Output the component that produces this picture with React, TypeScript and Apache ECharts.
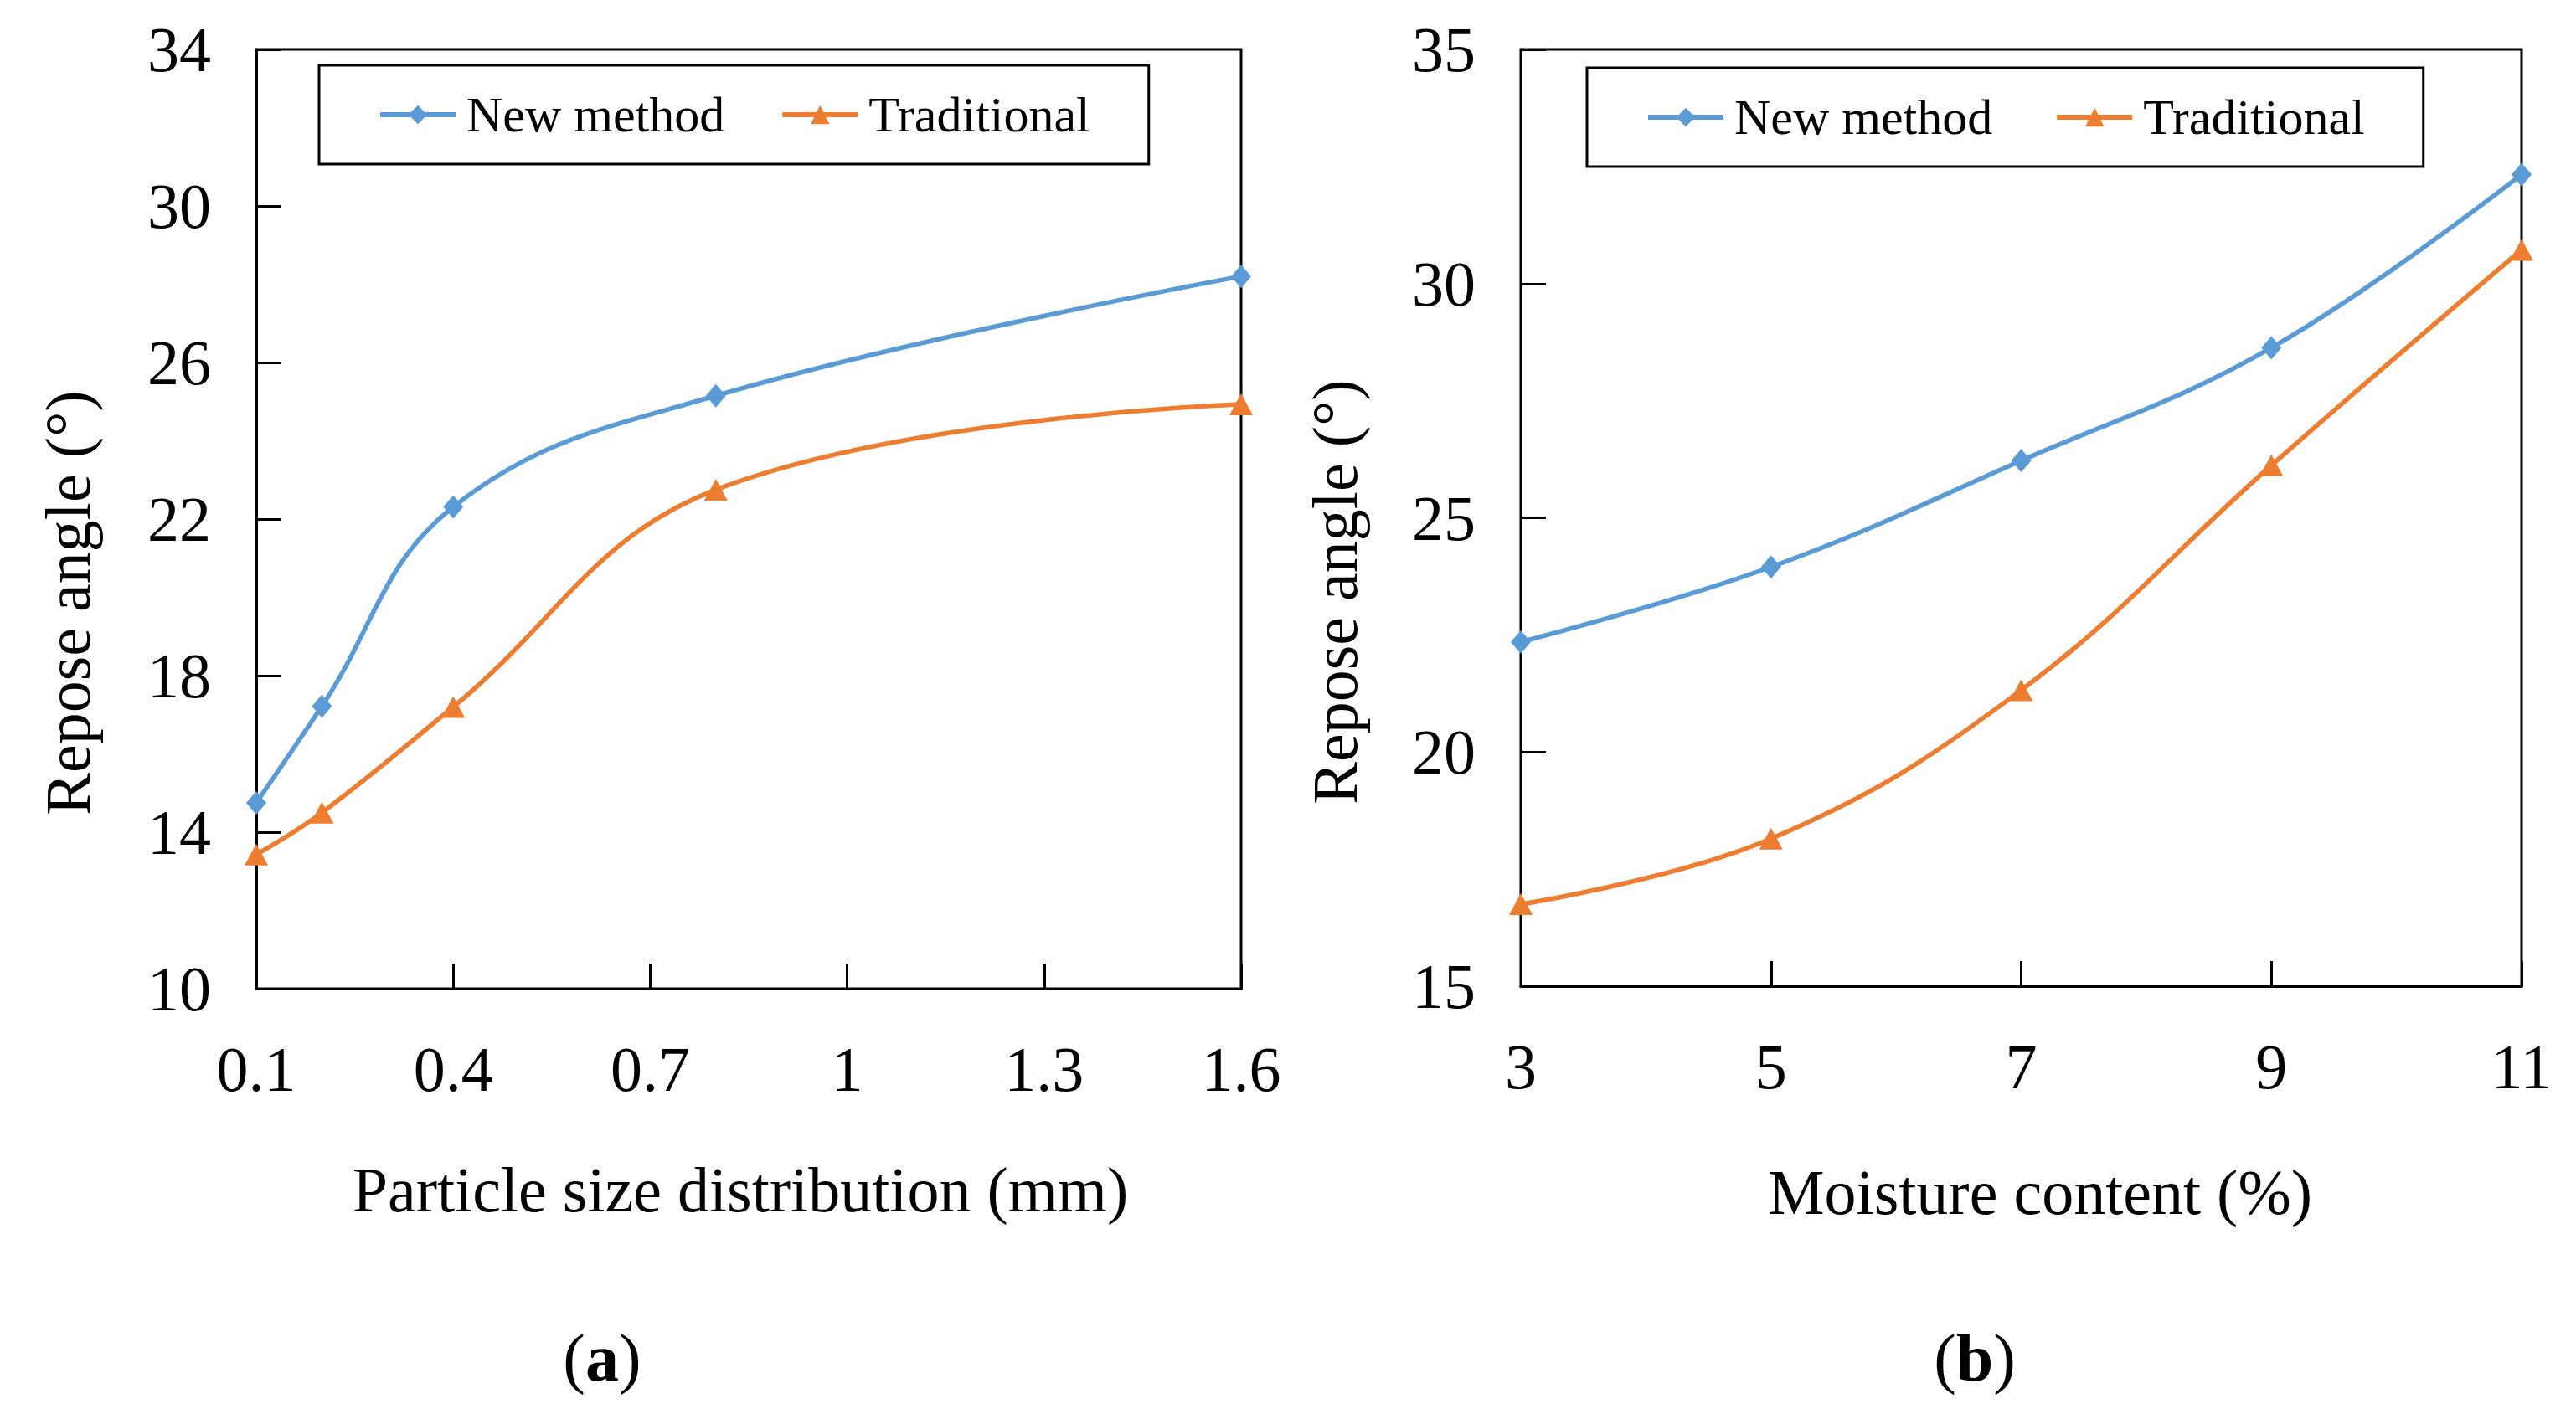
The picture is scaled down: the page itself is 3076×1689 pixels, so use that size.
import React, { useEffect, useRef } from 'react';
import * as echarts from 'echarts';

const FONT = '"Liberation Serif", "Times New Roman", Times, serif';
const BLUE = '#5B9BD5';
const ORANGE = '#ED7D31';

// Panel (a): particle size distribution
const sizeX = [0.1, 0.2, 0.4, 0.8, 1.6];
const sizeNew = [14.75, 17.22, 22.31, 25.15, 28.2];
const sizeTrad = [13.43, 14.5, 17.2, 22.75, 24.93];
const sizeXTicks = [0.1, 0.4, 0.7, 1, 1.3, 1.6];
const sizeYTicks = [10, 14, 18, 22, 26, 30, 34];

// Panel (b): moisture content
const moistX = [3, 5, 7, 9, 11];
const moistNew = [22.35, 23.95, 26.22, 28.63, 32.33];
const moistTrad = [16.75, 18.15, 21.32, 26.12, 30.72];
const moistXTicks = [3, 5, 7, 9, 11];
const moistYTicks = [15, 20, 25, 30, 35];

const seriesNames = ['New method', 'Traditional'];

function xAxis(gridIndex: number, min: number, max: number, ticks: number[]) {
  return {
    type: 'value',
    gridIndex,
    min,
    max,
    axisLine: { show: true, onZero: false, lineStyle: { color: '#000', width: 3 } },
    axisTick: { show: true, inside: true, length: 30, customValues: ticks, lineStyle: { color: '#000', width: 3 } },
    axisLabel: { customValues: ticks, color: '#000', fontFamily: FONT, fontSize: 76, margin: 58 },
    splitLine: { show: false },
  };
}

function yAxis(gridIndex: number, min: number, max: number, ticks: number[]) {
  return {
    type: 'value',
    gridIndex,
    min,
    max,
    axisLine: { show: true, onZero: false, lineStyle: { color: '#000', width: 3 } },
    axisTick: { show: true, inside: true, length: 30, customValues: ticks, lineStyle: { color: '#000', width: 3 } },
    axisLabel: { customValues: ticks, color: '#000', fontFamily: FONT, fontSize: 76, margin: 54 },
    splitLine: { show: false },
  };
}

function lineSeries(name: string, idx: number, xs: number[], ys: number[], color: string, symbol: string, size: number[]) {
  return {
    type: 'line',
    name,
    xAxisIndex: idx,
    yAxisIndex: idx,
    data: xs.map((x, i) => [x, ys[i]]),
    smooth: 0.4,
    clip: false,
    symbol,
    symbolSize: size,
    showSymbol: true,
    lineStyle: { color, width: 5.5 },
    itemStyle: { color },
    emphasis: { disabled: true },
  };
}

function legend(left: number, top: number, gap: number) {
  return {
    left,
    top,
    orient: 'horizontal',
    data: seriesNames,
    selectedMode: false,
    itemWidth: 90,
    itemHeight: 28,
    itemGap: gap,
    padding: [29, 70, 29, 70],
    borderColor: '#000',
    borderWidth: 3,
    lineStyle: { width: 6 },
    textStyle: { color: '#000', fontFamily: FONT, fontSize: 60, padding: [0, 0, 0, 8] },
  };
}

function titleText(text: string, x: number, y: number, rotate = 0) {
  return {
    type: 'text',
    x,
    y,
    rotation: rotate,
    style: {
      text,
      fill: '#000',
      font: `76px ${FONT}`,
      align: 'center',
      verticalAlign: 'middle',
    },
  };
}

function panelLabel(letter: string, x: number, y: number) {
  return {
    type: 'text',
    x,
    y,
    style: {
      text: `({b|${letter}})`,
      fill: '#000',
      font: `80px ${FONT}`,
      fontFamily: FONT,
      fontSize: 80,
      align: 'center',
      verticalAlign: 'middle',
      rich: { b: { fontWeight: 'bold', fontFamily: FONT, fontSize: 80, fill: '#000' } },
    },
  };
}

const option = {
  animation: false,
  backgroundColor: '#fff',
  grid: [
    { left: 306, top: 59, width: 1176, height: 1122, show: true, borderColor: '#000', borderWidth: 3, backgroundColor: 'transparent' },
    { left: 1816, top: 59, width: 1195, height: 1119, show: true, borderColor: '#000', borderWidth: 3, backgroundColor: 'transparent' },
  ],
  xAxis: [xAxis(0, 0.1, 1.6, sizeXTicks), xAxis(1, 3, 11, moistXTicks)],
  yAxis: [yAxis(0, 10, 34, sizeYTicks), yAxis(1, 15, 35, moistYTicks)],
  legend: [legend(381, 78, 66), legend(1895, 81, 74)],
  series: [
    lineSeries(seriesNames[0], 0, sizeX, sizeNew, BLUE, 'diamond', [24, 28]),
    lineSeries(seriesNames[1], 0, sizeX, sizeTrad, ORANGE, 'triangle', [28, 26]),
    lineSeries(seriesNames[0], 1, moistX, moistNew, BLUE, 'diamond', [24, 28]),
    lineSeries(seriesNames[1], 1, moistX, moistTrad, ORANGE, 'triangle', [28, 26]),
  ],
  graphic: [
    titleText('Particle size distribution (mm)', 884, 1421),
    titleText('Moisture content (%)', 2436, 1424),
    titleText('Repose angle (°)', 81, 720, Math.PI / 2),
    titleText('Repose angle (°)', 1594, 707, Math.PI / 2),
    panelLabel('a', 719, 1622),
    panelLabel('b', 2358, 1622),
  ],
};

export default function App() {
  const ref = useRef<HTMLDivElement>(null);
  useEffect(() => {
    if (!ref.current) return;
    const chart = echarts.init(ref.current, null, { renderer: 'svg' });
    chart.setOption(option as any);
    return () => chart.dispose();
  }, []);
  return (
    <div
      ref={ref}
      style={{ position: 'fixed', left: 0, top: 0, width: 3076, height: 1689, background: '#fff' }}
    />
  );
}
